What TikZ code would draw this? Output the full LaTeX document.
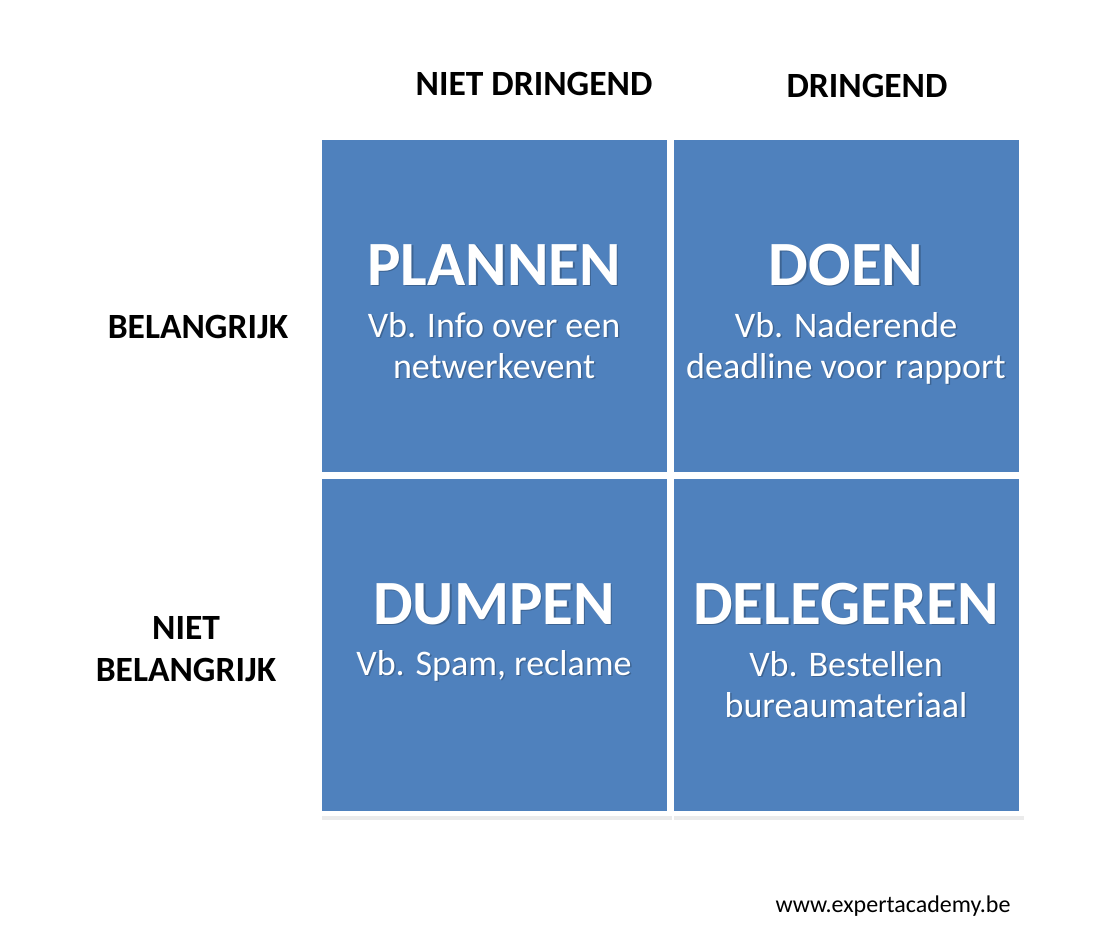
\documentclass[tikz,border=0pt]{standalone}
\usepackage{fontspec}
\setmainfont{Carlito}
\usetikzlibrary{positioning,shadows,calc}
\definecolor{quadblue}{HTML}{4F81BD}
\tikzset{quadbox/.style={fill=quadblue, draw=white, line width=5pt,
  minimum width=350pt, minimum height=337pt, inner sep=0pt,
  drop shadow={shadow xshift=3pt, shadow yshift=-6pt, opacity=0.16}},
  axislabel/.style={font=\fontsize{35.5}{42}\selectfont\bfseries, align=center},
  quadtitle/.style={font=\fontsize{63}{63}\selectfont\bfseries, text=white, anchor=base},
  quadsub/.style={font=\fontsize{36}{41}\selectfont, text=white, align=center, anchor=base},
  textshade/.style={text=black, opacity=0.22, xshift=1.5pt, yshift=-1.5pt}}
% white text with a soft dark shade under it
\newcommand{\shadedlabel}[4]{%
  \node[#2, textshade] at (#3) {#4};
  \node[#2] (#1) at (#3) {#4};}

\begin{document}
\begin{tikzpicture}[x=1pt, y=-1pt]
  \useasboundingbox (0,0) rectangle (1103,950);
  % the four quadrants
  \node[quadbox] (tl) at (494,306) {};
  \node[quadbox, right=-3pt of tl.north east, anchor=north west] (tr) {};
  \node[quadbox, below=-3pt of tl.south west, anchor=north west] (bl) {};
  \node[quadbox, below=-3pt of tr.south west, anchor=north west] (br) {};
  % axis labels
  \node[axislabel] (notdue) at (534,84) {NIET DRINGEND};
  \node[axislabel] (due) at (867,86) {DRINGEND};
  \node[axislabel] (imp) at (198,327) {BELANGRIJK};
  \node[axislabel] (notimp) at (186,649) {NIET\\BELANGRIJK};
  % quadrant texts (base of a wrapped text is its last line)
  \shadedlabel{tltitle}{quadtitle}{$(tl.north)+(0,150)$}{PLANNEN}
  \shadedlabel{tlsub}{quadsub}{$(tl.north)+(0,243)$}{Vb. Info over een\\netwerkevent}
  \shadedlabel{trtitle}{quadtitle}{$(tr.north)+(0,150)$}{DOEN}
  \shadedlabel{trsub}{quadsub}{$(tr.north)+(0,243)$}{Vb. Naderende\\deadline voor rapport}
  \shadedlabel{bltitle}{quadtitle}{$(bl.north)+(0,150)$}{DUMPEN}
  \shadedlabel{blsub}{quadsub}{$(bl.north)+(0,201)$}{Vb. Spam, reclame}
  \shadedlabel{brtitle}{quadtitle}{$(br.north)+(0,150)$}{DELEGEREN}
  \shadedlabel{brsub}{quadsub}{$(br.north)+(0,243)$}{Vb. Bestellen\\bureaumateriaal}
  \node[font=\fontsize{24}{28}\selectfont] (site) at (893,906) {www.expertacademy.be};
\end{tikzpicture}
\end{document}
